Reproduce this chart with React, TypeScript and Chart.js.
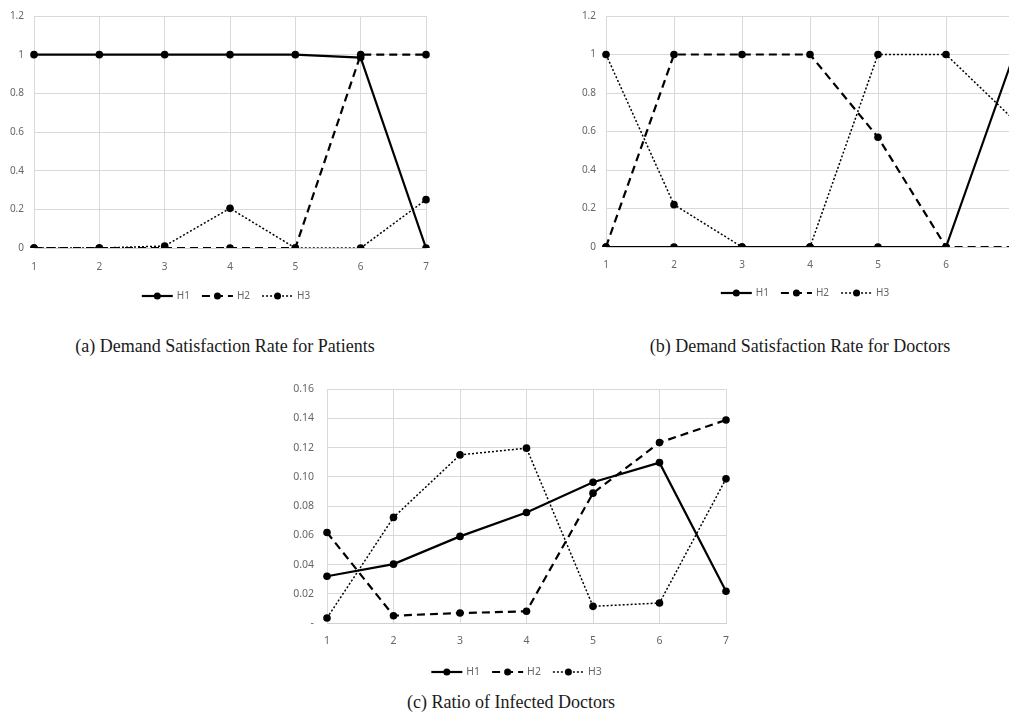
import React, { useEffect, useRef } from 'react';
import { Chart, registerables } from 'chart.js';

Chart.register(...registerables);

// ---------- data ----------
const periods = ['1', '2', '3', '4', '5', '6', '7'];
const seriesNames = ['H1', 'H2', 'H3'];

// (a) Demand Satisfaction Rate for Patients
const patientsH1 = [1, 1, 1, 1, 1, 0.985, 0];
const patientsH2 = [0, 0, 0, 0, 0, 1, 1];
const patientsH3 = [0, 0, 0.01, 0.205, 0, 0, 0.25];

// (b) Demand Satisfaction Rate for Doctors
const doctorsH1 = [0, 0, 0, 0, 0, 0, 1];
const doctorsH2 = [0, 1, 1, 1, 0.57, 0, 0];
const doctorsH3 = [1, 0.22, 0, 0, 1, 1, 0.66];

// (c) Ratio of Infected Doctors
const infectedH1 = [0.032, 0.0403, 0.0593, 0.0757, 0.0964, 0.1098, 0.0217];
const infectedH2 = [0.062, 0.005, 0.0068, 0.008, 0.0889, 0.1235, 0.139];
const infectedH3 = [0.0034, 0.0723, 0.1151, 0.1197, 0.0114, 0.0137, 0.0987];

// axis ranges / tick steps
const rateAxis = [0, 1.2, 0.2];
const ratioAxis = [0, 0.16, 0.02];

const captions = [
  '(a) Demand Satisfaction Rate for Patients',
  '(b) Demand Satisfaction Rate for Doctors',
  '(c) Ratio of Infected Doctors',
];

// ---------- styles ----------
const seriesStyles = [
  { dash: [] as number[], width: 2.2 },
  { dash: [8, 5], width: 2.2 },
  { dash: [2, 2], width: 1.5 },
];
const TICK_FONT = '"Noto Sans", "DejaVu Sans", sans-serif';

const legendPlugin = {
  id: 'excelLegend',
  afterDraw(chart: any, _args: any, opts: any) {
    const ctx = chart.ctx as CanvasRenderingContext2D;
    const ds = chart.data.datasets;
    ctx.save();
    ctx.font = `${opts.fontSize}px ${TICK_FONT}`;
    const sample = 31;
    const gapText = 4;
    const gapItem = 12;
    const widths = ds.map((d: any) => sample + gapText + ctx.measureText(d.label).width);
    const total = widths.reduce((a: number, b: number) => a + b, 0) + gapItem * (ds.length - 1);
    let x = chart.width / 2 - total / 2;
    const y = opts.y;
    ds.forEach((d: any, i: number) => {
      ctx.strokeStyle = '#000';
      ctx.lineWidth = d.borderWidth;
      ctx.setLineDash(d.borderDash || []);
      ctx.beginPath();
      ctx.moveTo(x, y);
      ctx.lineTo(x + sample, y);
      ctx.stroke();
      ctx.setLineDash([]);
      ctx.fillStyle = '#000';
      ctx.beginPath();
      ctx.arc(x + sample / 2, y, 3.5, 0, Math.PI * 2);
      ctx.fill();
      ctx.fillStyle = '#666';
      ctx.textBaseline = 'middle';
      ctx.textAlign = 'left';
      ctx.fillText(d.label, x + sample + gapText, y + 0.5);
      x += widths[i] + gapItem;
    });
    ctx.restore();
  },
};

type Props = {
  left: number;
  top: number;
  width: number;
  height: number;
  yAxisWidth: number;
  padRight: number;
  padTop: number;
  xAxisHeight: number;
  axis: number[];
  series: number[][];
  fontSize: number;
  yTickPad: number;
  xTickPad: number;
  legendY: number;
  fmt: (v: number) => string;
};

function LineChart(p: Props) {
  const ref = useRef<HTMLCanvasElement | null>(null);
  useEffect(() => {
    if (!ref.current) return;
    const chart = new Chart(ref.current, {
      type: 'line',
      data: {
        labels: periods,
        datasets: p.series.map((vals, i) => ({
          label: seriesNames[i],
          data: vals,
          borderColor: '#000',
          backgroundColor: '#000',
          borderWidth: seriesStyles[i].width,
          borderDash: seriesStyles[i].dash,
          pointRadius: 3.8,
          pointBackgroundColor: '#000',
          pointBorderColor: '#000',
          pointBorderWidth: 0,
          tension: 0,
          fill: false,
        })),
      },
      options: {
        animation: false,
        responsive: false,
        maintainAspectRatio: false,
        layout: { padding: { left: 0, right: p.padRight, top: p.padTop, bottom: 0 } },
        plugins: {
          legend: { display: false },
          tooltip: { enabled: false },
          excelLegend: { y: p.legendY, fontSize: p.fontSize },
        } as any,
        scales: {
          x: {
            type: 'category',
            offset: false,
            grid: { color: '#d9d9d9', lineWidth: 1, drawTicks: false },
            border: { display: true, color: '#d0d0d0' },
            ticks: {
              color: '#666',
              padding: p.xTickPad,
              font: { family: TICK_FONT, size: p.fontSize },
              maxRotation: 0,
            },
            afterFit: (s: any) => {
              s.height = p.xAxisHeight;
            },
          },
          y: {
            min: p.axis[0],
            max: p.axis[1],
            grid: { color: '#d9d9d9', lineWidth: 1, drawTicks: false },
            border: { display: true, color: '#d9d9d9' },
            ticks: {
              stepSize: p.axis[2],
              color: '#666',
              padding: p.yTickPad,
              font: { family: TICK_FONT, size: p.fontSize },
              callback: (v: any) => p.fmt(Number(v)),
            },
            afterFit: (s: any) => {
              s.width = p.yAxisWidth;
            },
          },
        },
      },
      plugins: [legendPlugin],
    } as any);
    return () => chart.destroy();
  }, []);
  return (
    <canvas
      ref={ref}
      width={p.width}
      height={p.height}
      style={{ position: 'absolute', left: p.left, top: p.top, width: p.width, height: p.height }}
    />
  );
}

const captionStyle = (cx: number, top: number): React.CSSProperties => ({
  position: 'absolute',
  left: cx - 250,
  top,
  width: 500,
  textAlign: 'center',
  fontFamily: '"Liberation Serif", "Times New Roman", serif',
  fontSize: 18,
  lineHeight: '20px',
  color: '#1a1a1a',
  whiteSpace: 'nowrap',
});

const rateFmt = (v: number) => String(Math.round(v * 10) / 10);
const ratioFmt = (v: number) => (Math.abs(v) < 1e-9 ? '-' : v.toFixed(2));

export default function App() {
  return (
    <div
      style={{
        position: 'fixed',
        left: 0,
        top: 0,
        width: 1009,
        height: 714,
        overflow: 'hidden',
        background: '#fff',
      }}
    >
      <LineChart
        left={0}
        top={0}
        width={452}
        height={312}
        yAxisWidth={34}
        padRight={26}
        padTop={15}
        xAxisHeight={64}
        axis={rateAxis}
        series={[patientsH1, patientsH2, patientsH3]}
        fontSize={10}
        yTickPad={10}
        xTickPad={13}
        legendY={296}
        fmt={rateFmt}
      />
      <LineChart
        left={570}
        top={0}
        width={470}
        height={312}
        yAxisWidth={36}
        padRight={26}
        padTop={15}
        xAxisHeight={65}
        axis={rateAxis}
        series={[doctorsH1, doctorsH2, doctorsH3]}
        fontSize={10}
        yTickPad={10}
        xTickPad={12}
        legendY={293}
        fmt={rateFmt}
      />
      <LineChart
        left={287}
        top={370}
        width={459}
        height={320}
        yAxisWidth={40}
        padRight={20}
        padTop={19}
        xAxisHeight={67}
        axis={ratioAxis}
        series={[infectedH1, infectedH2, infectedH3]}
        fontSize={10.5}
        yTickPad={13}
        xTickPad={12}
        legendY={302}
        fmt={ratioFmt}
      />
      <div style={captionStyle(225, 336)}>{captions[0]}</div>
      <div style={captionStyle(800, 336)}>{captions[1]}</div>
      <div style={captionStyle(511, 692)}>{captions[2]}</div>
    </div>
  );
}
